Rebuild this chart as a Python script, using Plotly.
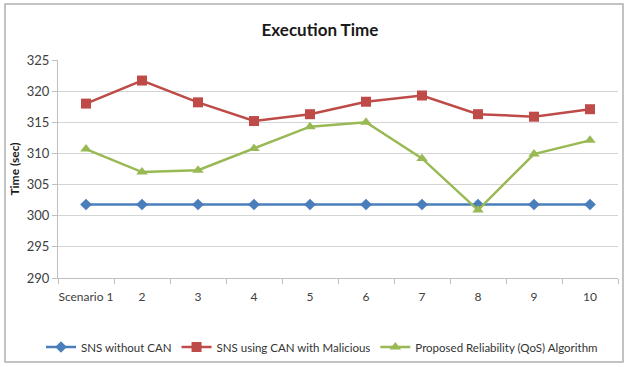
import plotly.graph_objects as go

categories = ["Scenario 1", "2", "3", "4", "5", "6", "7", "8", "9", "10"]
sns_without_can = [301.8, 301.8, 301.8, 301.8, 301.8, 301.8, 301.8, 301.8, 301.8, 301.8]
sns_malicious = [318.0, 321.7, 318.2, 315.2, 316.3, 318.3, 319.3, 316.3, 315.9, 317.1]
proposed_qos = [310.7, 307.0, 307.3, 310.8, 314.3, 315.0, 309.2, 300.9, 309.9, 312.1]
y_ticks = [290, 295, 300, 305, 310, 315, 320, 325]

W, H = 628, 367
L, R, T, B = 58, 10, 60, 89

fig = go.Figure()
fig.add_trace(go.Scatter(x=categories, y=sns_without_can, mode="lines+markers",
                         name="SNS without CAN",
                         line=dict(color="#4A7EBB", width=2.5),
                         marker=dict(symbol="diamond", size=9, color="#4A7EBB")))
fig.add_trace(go.Scatter(x=categories, y=sns_malicious, mode="lines+markers",
                         name="SNS using CAN with Malicious",
                         line=dict(color="#BE4B48", width=2.5),
                         marker=dict(symbol="square", size=10, color="#BE4B48")))
fig.add_trace(go.Scatter(x=categories, y=proposed_qos, mode="lines+markers",
                         name="Proposed Reliability (QoS) Algorithm",
                         line=dict(color="#98B954", width=2.5),
                         marker=dict(symbol="triangle-up", size=10, color="#98B954")))

pw = W - L - R
ph = H - T - B
def px_x(p):
    return (p - L) / pw
def px_y(p):
    return (H - B - p) / ph

fig.update_layout(
    width=W, height=H,
    margin=dict(l=L, r=R, t=T, b=B, autoexpand=False),
    paper_bgcolor="white", plot_bgcolor="white",
    font=dict(family="Lato, 'Open Sans', sans-serif", size=12, color="#404040"),
    title=dict(text="<b>Execution Time</b>", x=320 / W, xanchor="center",
               y=1 - 30 / H, yanchor="middle",
               font=dict(size=17, color="#1a1a1a")),
    showlegend=True,
    legend=dict(orientation="h", x=px_x(41), xanchor="left", y=px_y(347), yanchor="middle",
                font=dict(size=11.5, color="#333333"), itemwidth=30,
                bgcolor="rgba(0,0,0,0)"),
    xaxis=dict(type="category", showgrid=False, showline=True, linecolor="#bfbfbf",
               ticks="outside", tickson="boundaries", ticklen=5, tickcolor="#bfbfbf",
               tickangle=0, automargin=False,
               tickfont=dict(size=12, color="#404040"), range=[-0.5, 9.5],
               ticklabelstandoff=8),
    yaxis=dict(range=[290, 325], tickvals=y_ticks, showgrid=True, gridcolor="#d4d4d4",
               gridwidth=1, showline=True, linecolor="#bfbfbf", ticks="outside",
               ticklen=5, tickcolor="#bfbfbf", zeroline=False, automargin=False,
               tickfont=dict(size=13, color="#404040"),
               title=dict(text="<b>Time (sec)</b>", font=dict(size=12, color="#1a1a1a"),
                          standoff=4)),
    shapes=[dict(type="rect", xref="paper", yref="paper",
                 x0=px_x(5), x1=px_x(623), y0=px_y(362), y1=px_y(4),
                 line=dict(color="#b0b0b0", width=1.5), layer="below")],
)

fig.write_html("out.html", config={"displayModeBar": False},
               post_script="document.body.style.margin='0';document.body.style.overflow='hidden';")
